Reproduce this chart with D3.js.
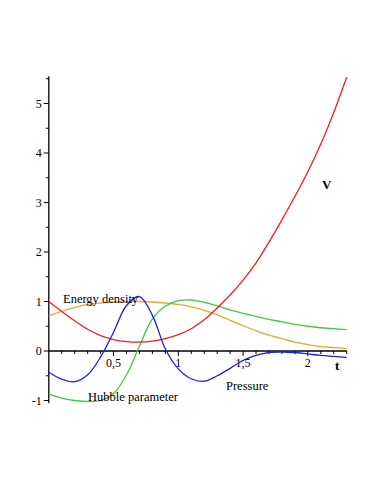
<!DOCTYPE html>
<html lang="en">
<head>
<meta charset="UTF-8">
<title>V, energy density, Hubble parameter, pressure</title>
<script src="https://d3js.org/d3.v7.min.js"></script>
<style>
  body { margin: 0; background: #fff; }
  svg text { font-family: "Liberation Serif", "DejaVu Serif", serif; }
</style>
</head>
<body>
<script>
  // t values (sampled every 0.1)
  const tValues = [0, 0.1, 0.2, 0.3, 0.4, 0.5, 0.6, 0.7, 0.8, 0.9, 1.0, 1.1,
                   1.2, 1.3, 1.4, 1.5, 1.6, 1.7, 1.8, 1.9, 2.0, 2.1, 2.2, 2.3];

  // series values
  const potentialV = [1.0, 0.8, 0.61, 0.44, 0.31, 0.23, 0.19, 0.18, 0.2, 0.25, 0.33, 0.45,
                      0.63, 0.87, 1.13, 1.43, 1.78, 2.2, 2.65, 3.12, 3.62, 4.18, 4.82, 5.53];
  const energyDensity = [0.71, 0.8, 0.88, 0.94, 0.97, 0.99, 1.0, 1.0, 0.99, 0.97, 0.94, 0.89,
                         0.82, 0.73, 0.62, 0.51, 0.41, 0.32, 0.25, 0.18, 0.13, 0.09, 0.07, 0.05];
  const hubbleParam = [-0.87, -0.95, -1.0, -1.02, -1.0, -0.86, -0.48, 0.1, 0.65, 0.91, 1.02, 1.03,
                       0.98, 0.91, 0.83, 0.76, 0.7, 0.64, 0.59, 0.54, 0.5, 0.47, 0.45, 0.43];
  const pressure = [-0.43, -0.57, -0.62, -0.48, -0.12, 0.38, 0.92, 1.1, 0.72, 0.04, -0.36, -0.56,
                    -0.61, -0.5, -0.35, -0.19, -0.09, -0.03, -0.02, -0.03, -0.06, -0.09, -0.11, -0.13];

  // tick labels
  const xMajorTicks = [0.5, 1, 1.5, 2];
  const xTickLabels = ["0,5", "1", "1,5", "2"];
  const yMajorTicks = [-1, 0, 1, 2, 3, 4, 5];
  const yTickLabels = ["-1", "0", "1", "2", "3", "4", "5"];

  const width = 374, height = 484;

  const svg = d3.select("body")
    .append("svg")
    .attr("width", width)
    .attr("height", height);

  // scales
  const x = d3.scaleLinear().domain([0, 2.3]).range([48.8, 346.7]);
  const y = d3.scaleLinear().domain([-1, 5]).range([400.5, 103.5]);

  // y axis
  svg.append("line")
    .attr("x1", x(0)).attr("x2", x(0))
    .attr("y1", y(-1.05)).attr("y2", y(5.55))
    .attr("stroke", "#000").attr("stroke-width", 1.3);

  svg.selectAll(".ytick")
    .data(d3.range(-1, 5.51, 0.5))
    .enter().append("line")
    .attr("x1", x(0))
    .attr("x2", d => Number.isInteger(d) ? x(0) - 5 : x(0) - 3)
    .attr("y1", d => y(d)).attr("y2", d => y(d))
    .attr("stroke", "#000").attr("stroke-width", 1);

  svg.selectAll(".ylabel")
    .data(yMajorTicks)
    .enter().append("text")
    .attr("x", x(0) - 7)
    .attr("y", d => y(d))
    .attr("dy", "0.35em")
    .attr("text-anchor", "end")
    .attr("font-size", 12)
    .text((d, i) => yTickLabels[i]);

  // x axis
  svg.append("line")
    .attr("x1", x(0)).attr("x2", x(2.3))
    .attr("y1", y(0)).attr("y2", y(0))
    .attr("stroke", "#000").attr("stroke-width", 1.3);

  svg.selectAll(".xtick")
    .data(d3.range(0.1, 2.31, 0.1))
    .enter().append("line")
    .attr("x1", d => x(d)).attr("x2", d => x(d))
    .attr("y1", y(0))
    .attr("y2", d => Math.abs(d * 2 - Math.round(d * 2)) < 1e-6 ? y(0) + 5 : y(0) + 3)
    .attr("stroke", "#000").attr("stroke-width", 1);

  svg.selectAll(".xlabel")
    .data(xMajorTicks)
    .enter().append("text")
    .attr("x", d => x(d))
    .attr("y", y(0) + 16)
    .attr("text-anchor", "middle")
    .attr("font-size", 12)
    .text((d, i) => xTickLabels[i]);

  // curves
  const series = [
    { values: energyDensity, color: "#e6a832" },
    { values: hubbleParam, color: "#3fcc3f" },
    { values: potentialV, color: "#ff1a1a" },
    { values: pressure, color: "#1a1aff" }
  ];

  const line = d3.line()
    .x((d, i) => x(tValues[i]))
    .y(d => y(d))
    .curve(d3.curveCatmullRom.alpha(0.5));

  svg.selectAll(".curve")
    .data(series)
    .enter().append("path")
    .attr("d", d => line(d.values))
    .attr("fill", "none")
    .attr("stroke", d => d.color)
    .attr("stroke-width", 1.3);

  // curve labels
  svg.append("text").attr("x", 63).attr("y", 303)
    .attr("font-size", 12.5).text("Energy density");
  svg.append("text").attr("x", 88).attr("y", 401)
    .attr("font-size", 12.5).text("Hubble parameter");
  svg.append("text").attr("x", 226).attr("y", 390)
    .attr("font-size", 12.5).text("Pressure");
  svg.append("text").attr("x", 322).attr("y", 189)
    .attr("font-size", 13).attr("font-weight", "bold").text("V");
  svg.append("text").attr("x", 335).attr("y", 370)
    .attr("font-size", 13).attr("font-weight", "bold").text("t");
</script>
</body>
</html>
